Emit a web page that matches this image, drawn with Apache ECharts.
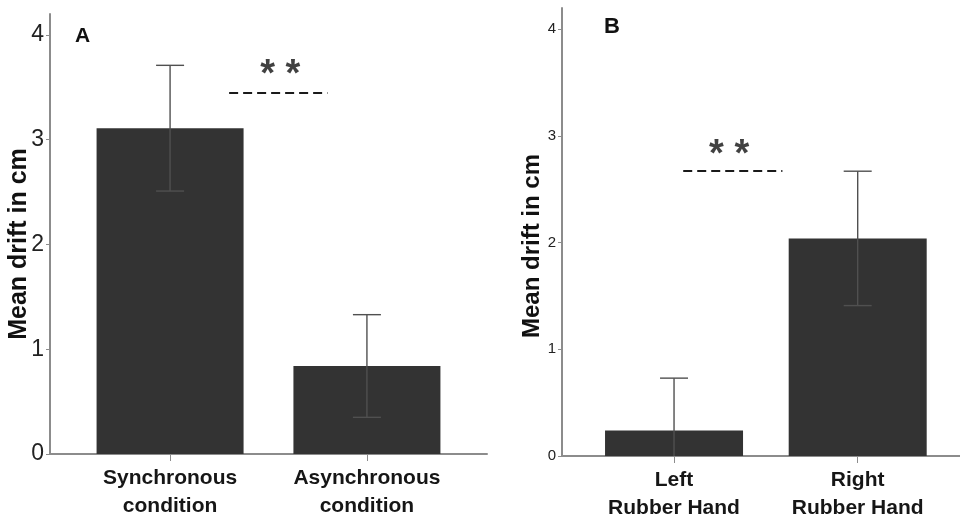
<!DOCTYPE html>
<html>
<head>
<meta charset="utf-8">
<title>Mean drift</title>
<script src="https://cdn.jsdelivr.net/npm/echarts@6/dist/echarts.min.js"></script>
<style>
  html, body { margin: 0; padding: 0; background: #fff; }
  #main { width: 960px; height: 524px; }
</style>
</head>
<body>
<div id="main"></div>
<script>
// panel A
var groupsA = ['Synchronous\ncondition', 'Asynchronous\ncondition'];
var meansA = [3.11, 0.84];
var errA = [0.60, 0.49];
var sigLineA = [[0.30, 3.45], [0.80, 3.45]];
var starsA = [0.56, 3.68];

// panel B
var groupsB = ['Left\nRubber Hand', 'Right\nRubber Hand'];
var meansB = [0.24, 2.04];
var errB = [0.49, 0.63];
var sigLineB = [[0.05, 2.67], [0.59, 2.67]];
var starsB = [0.30, 2.88];

var yTicks = [0, 1, 2, 3, 4];
var xTicks = [0, 1];
var yTitle = 'Mean drift in cm';

var chart = echarts.init(document.getElementById('main'));

var sans = "'Liberation Sans', Arial, sans-serif";
var axisGrey = '#8c8c8c';

function xAxisFor(idx, names, max) {
    return {
        type: 'value', gridIndex: idx, min: -0.61, max: max,
        splitLine: { show: false },
        axisLine: { lineStyle: { color: axisGrey, width: 2 } },
        axisTick: { customValues: xTicks, length: 7, lineStyle: { color: axisGrey } },
        axisLabel: {
            customValues: xTicks,
            formatter: function (v) { return names[Math.round(v)]; },
            fontFamily: sans, fontWeight: 'bold', fontSize: 21, lineHeight: 28,
            color: '#161616', margin: 10
        }
    };
}

function yAxisFor(idx, labelSize) {
    return {
        type: 'value', gridIndex: idx, min: 0, max: 4.2,
        splitLine: { show: false },
        axisLine: { show: true, onZero: false, lineStyle: { color: axisGrey, width: 2 } },
        axisTick: { show: true, customValues: yTicks, length: 4, lineStyle: { color: axisGrey } },
        axisLabel: {
            customValues: yTicks, fontFamily: sans, fontSize: labelSize,
            color: '#222', margin: 6
        }
    };
}

function errorSeries(idx, means, errs) {
    var data = means.map(function (m, i) { return [i, m, errs[i]]; });
    return {
        type: 'custom', xAxisIndex: idx, yAxisIndex: idx, data: data, silent: true, z: 5,
        renderItem: function (params, api) {
            var x = api.value(0), m = api.value(1), e = api.value(2);
            var lo = Math.max(0, m - e), hi = m + e;
            var top = api.coord([x, hi]);
            var bot = api.coord([x, lo]);
            var half = 14;
            var style = { stroke: '#505050', lineWidth: 1.4 };
            var kids = [
                { type: 'line', shape: { x1: top[0], y1: top[1], x2: bot[0], y2: bot[1] }, style: style },
                { type: 'line', shape: { x1: top[0] - half, y1: top[1], x2: top[0] + half, y2: top[1] }, style: style }
            ];
            if (m - e > 0) {
                kids.push({ type: 'line', shape: { x1: bot[0] - half, y1: bot[1], x2: bot[0] + half, y2: bot[1] }, style: style });
            }
            return { type: 'group', children: kids };
        }
    };
}

function barSeries(idx, means, width, sigLine) {
    return {
        type: 'bar', xAxisIndex: idx, yAxisIndex: idx, barWidth: width,
        data: means.map(function (m, i) { return [i, m]; }),
        itemStyle: { color: '#333333' }, silent: true,
        markLine: {
            silent: true, symbol: 'none',
            label: { show: false },
            lineStyle: { color: '#1a1a1a', type: [9, 5], width: 2.2 },
            data: [[{ coord: sigLine[0] }, { coord: sigLine[1] }]]
        }
    };
}

function starSeries(idx, pos) {
    return {
        type: 'scatter', xAxisIndex: idx, yAxisIndex: idx, symbolSize: 0, silent: true,
        data: [pos],
        label: {
            show: true, position: 'inside', formatter: '* *', offset: [0, 7],
            fontFamily: sans, fontWeight: 'bold', fontSize: 38, color: '#111'
        }
    };
}

function titleText(x, y, size) {
    return {
        type: 'text', x: x, y: y, rotation: Math.PI / 2,
        style: {
            text: yTitle, fontFamily: sans, fontWeight: 'bold', fontSize: size,
            fill: '#111', align: 'center', verticalAlign: 'middle'
        }
    };
}

var option = {
    animation: false,
    backgroundColor: '#fff',
    grid: [
        { left: 50, top: 14, width: 437, bottom: 70 },
        { left: 562, top: 8, right: 0, bottom: 68 }
    ],
    xAxis: [xAxisFor(0, groupsA, 1.61), xAxisFor(1, groupsB, 1.557)],
    yAxis: [yAxisFor(0, 23), yAxisFor(1, 15)],
    graphic: [
        { type: 'text', left: 75, top: 26, style: { text: 'A', fontFamily: sans, fontWeight: 'bold', fontSize: 21, fill: '#111' } },
        { type: 'text', left: 604, top: 16, style: { text: 'B', fontFamily: sans, fontWeight: 'bold', fontSize: 22, fill: '#111' } },
        titleText(19, 244, 25),
        titleText(532, 246, 24)
    ],
    series: [
        barSeries(0, meansA, 147, sigLineA),
        errorSeries(0, meansA, errA),
        starSeries(0, starsA),
        barSeries(1, meansB, 138, sigLineB),
        errorSeries(1, meansB, errB),
        starSeries(1, starsB)
    ]
};
chart.setOption(option);
</script>
</body>
</html>
